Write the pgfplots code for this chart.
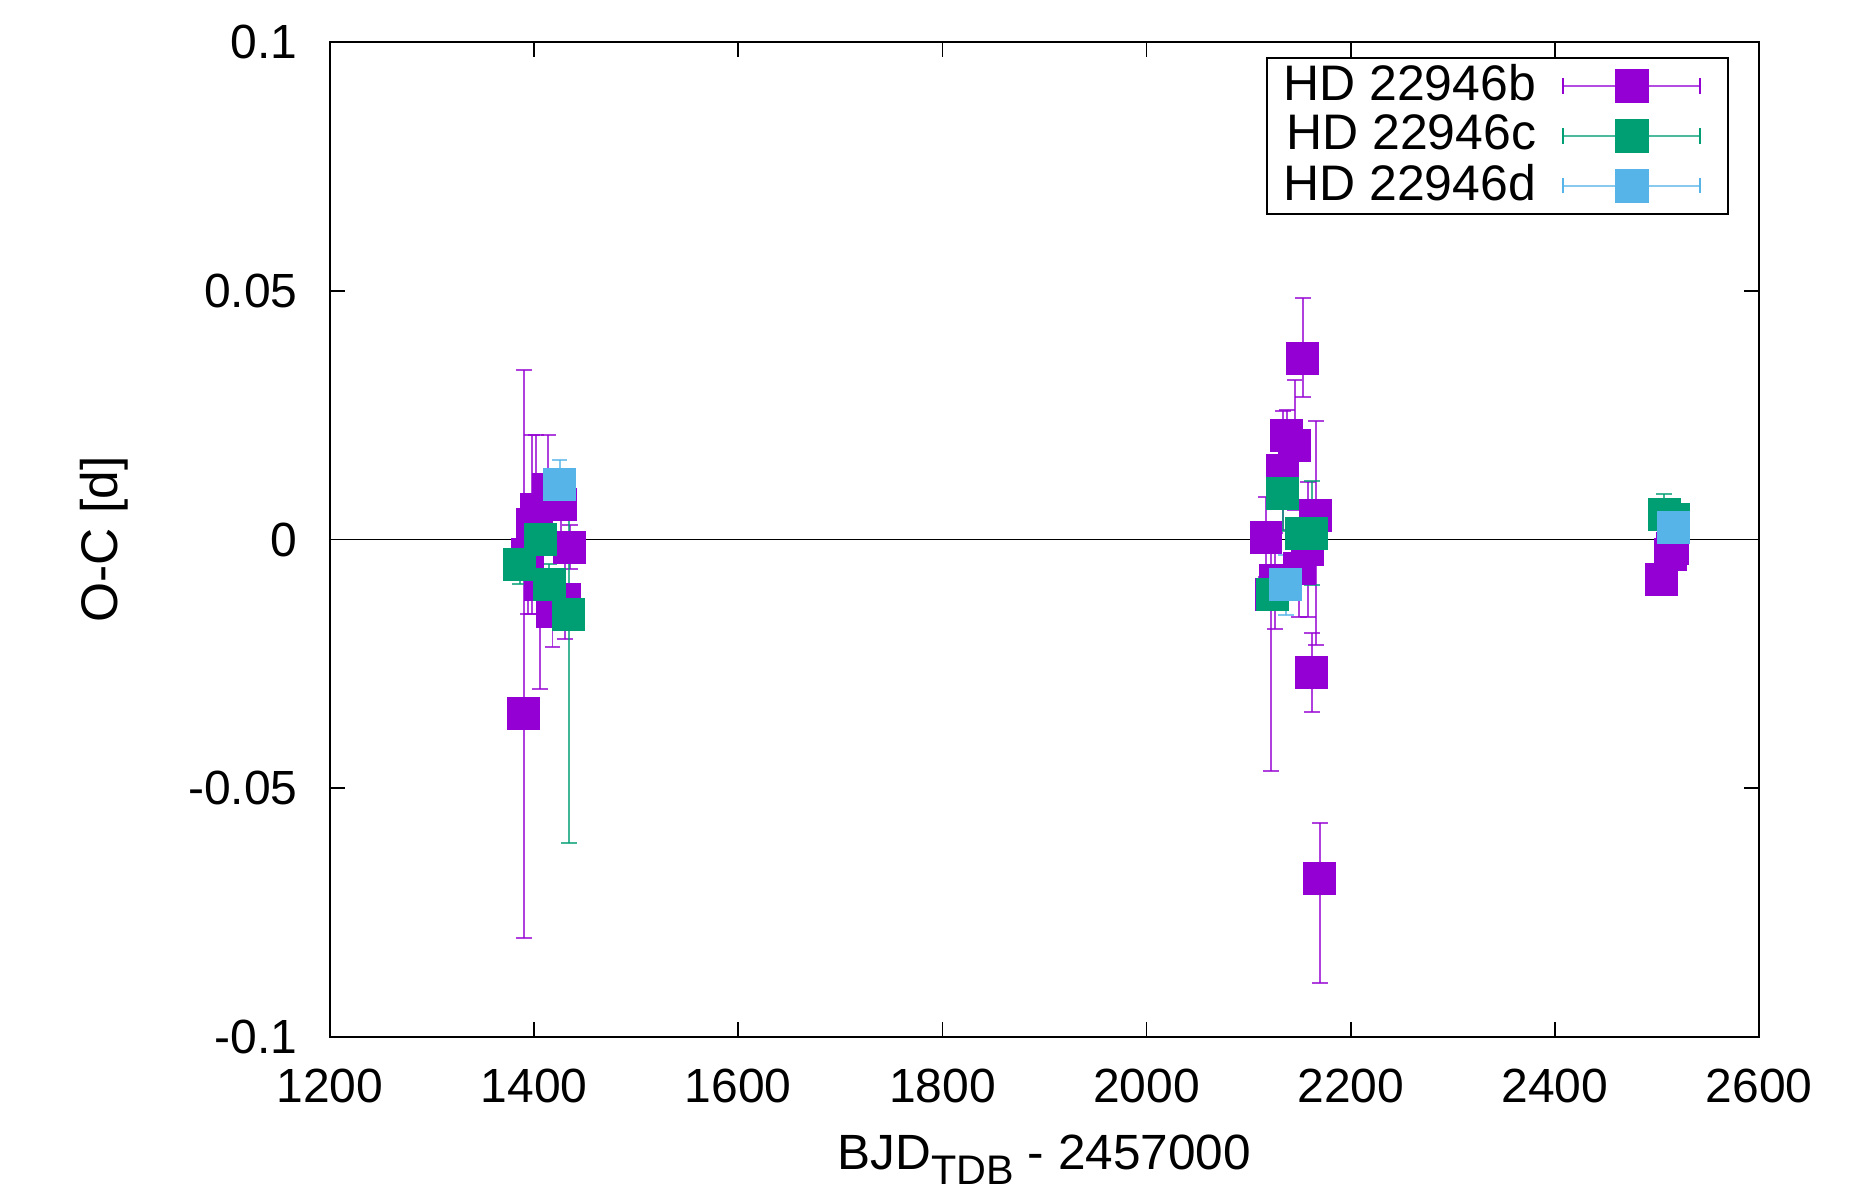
\documentclass[border=0pt]{standalone}
\usepackage{fontspec}
\setmainfont{Liberation Sans}
\usepackage{pgfplots}
\pgfplotsset{compat=1.18}

\definecolor{cb}{HTML}{9400D3}
\definecolor{cc}{HTML}{009E73}
\definecolor{cd}{HTML}{56B4E9}

% legend image: error bar line with caps, square in the middle
\pgfplotsset{
  oclegend/.style={legend image code/.code={
      \path[draw=none, fill=none] (0pt,0pt) -- (45pt,0pt);
      \draw[#1, opacity=0.7, line width=0.5pt] (5pt,0pt) -- (40pt,0pt);
      \draw[#1, line width=0.5pt] (5pt,-2pt) -- (5pt,2pt);
      \draw[#1, line width=0.5pt] (40pt,-2pt) -- (40pt,2pt);
      \fill[#1] (18.4pt,-4.1pt) rectangle (26.6pt,4.1pt);}},
  ocplot/.style={only marks, mark=square*, mark size=4.1pt, color=#1,
      mark options={solid, fill=#1, draw=#1, line width=0pt},
      error bars/.cd, y dir=both, y explicit,
      error bar style={#1, opacity=0.75, line width=0.5pt},
      error mark options={#1, rotate=90, mark size=2pt, line width=0.5pt},
      /pgfplots/.cd},
}

\begin{document}
\fontsize{12.3}{14.4}\selectfont
\begin{tikzpicture}
\begin{axis}[
  scale only axis,
  width=366.4pt, height=255.1pt,
  xmin=1200, xmax=2600,
  ymin=-0.1, ymax=0.1,
  xtick={1200,1400,1600,1800,2000,2200,2400,2600},
  xticklabels={1200,1400,1600,1800,2000,2200,2400,2600},
  ytick={-0.1,-0.05,0,0.05,0.1},
  yticklabels={-0.1,-0.05,0,0.05,0.1},
  tick align=inside, tick pos=both,
  major tick length=3.9pt,
  tick style={black, line width=0.45pt},
  axis line style={line width=0.7pt},
  xticklabel style={yshift=-4pt},
  yticklabel style={xshift=-4pt},
  legend plot pos=right,
  legend cell align=right,
  legend style={at={(rel axis cs:1,1)}, anchor=north east,
    xshift=-7.7pt, yshift=-3.9pt, draw=black, line width=0.5pt,
    inner xsep=2.2pt, inner ysep=-0.4pt, row sep=-2.2pt,
    font=\fontsize{12.8}{14}\selectfont},
]
\addplot[black, line width=0.4pt, forget plot] coordinates {(1200,0) (2600,0)};

% HD 22946b
\addplot[oclegend=cb, ocplot=cb] coordinates {
  (1390,-0.035) += (0,0.069) -= (0,0.045)
  (1394,-0.003) +- (0,0.012)
  (1398,0.003) +- (0,0.018)
  (1402,0.006) +- (0,0.015)
  (1406,-0.009) +- (0,0.021)
  (1414,0.010) +- (0,0.011)
  (1418,-0.0145) +- (0,0.007)
  (1426,0.007) +- (0,0.006)
  (1430,-0.012) +- (0,0.008)
  (1435,-0.0015) +- (0,0.0045)
  (2117,0.0005) +- (0,0.008)
  (2122,-0.011) += (0,0.012) -= (0,0.0355)
  (2126,-0.0083) +- (0,0.0097)
  (2133.5,0.0139) +- (0,0.012)
  (2137.4,0.0209) +- (0,0.0051)
  (2145,0.019) +- (0,0.013)
  (2149.5,-0.0058) +- (0,0.0097)
  (2153,0.0364) += (0,0.0121) -= (0,0.0078)
  (2158,-0.002) +- (0,0.0135)
  (2162,-0.0267) +- (0,0.008)
  (2165.8,0.0049) += (0,0.019) -= (0,0.026)
  (2169.7,-0.0681) += (0,0.0111) -= (0,0.021)
  (2504.8,-0.008) +- (0,0.002)
  (2513.6,-0.003) +- (0,0.002)
  (2515.6,-0.0017) +- (0,0.002)
};
\addlegendentry{HD 22946b}

% HD 22946c
\addplot[oclegend=cc, ocplot=cc] coordinates {
  (1386,-0.005) +- (0,0.004)
  (1406,0.000) +- (0,0.012)
  (1415,-0.009) +- (0,0.004)
  (1434,-0.015) += (0,0.023) -= (0,0.046)
  (2123.6,-0.011) +- (0,0.003)
  (2133.5,0.0092) +- (0,0.0075)
  (2152,0.0013) +- (0,0.0058)
  (2162,0.0013) +- (0,0.0105)
  (2507,0.0051) +- (0,0.004)
  (2516.6,0.0041) +- (0,0.003)
};
\addlegendentry{HD 22946c}

% HD 22946d
\addplot[oclegend=cd, ocplot=cd] coordinates {
  (1425,0.011) +- (0,0.005)
  (2136.4,-0.0091) +- (0,0.006)
  (2516.6,0.0025) +- (0,0.0037)
};
\addlegendentry{HD 22946d}

\coordinate (sw) at (rel axis cs:0,0);
\coordinate (ne) at (rel axis cs:1,1);
\coordinate (ml) at (rel axis cs:0,0.5);
\coordinate (bm) at (rel axis cs:0.5,0);
\end{axis}
\node[rotate=90, font=\fontsize{13.2}{15}\selectfont] at ([xshift=-58pt]ml) {O-C [d]};
\node[font=\fontsize{12.7}{15}\selectfont] at ([yshift=-31.5pt]bm)
  {BJD\raisebox{-3.7pt}{\fontsize{10.6}{12}\selectfont TDB} - 2457000};
\pgfresetboundingbox
\useasboundingbox ([xshift=-84.6pt,yshift=-41pt]sw) rectangle ([xshift=30pt,yshift=10.8pt]ne);
\end{tikzpicture}
\end{document}
